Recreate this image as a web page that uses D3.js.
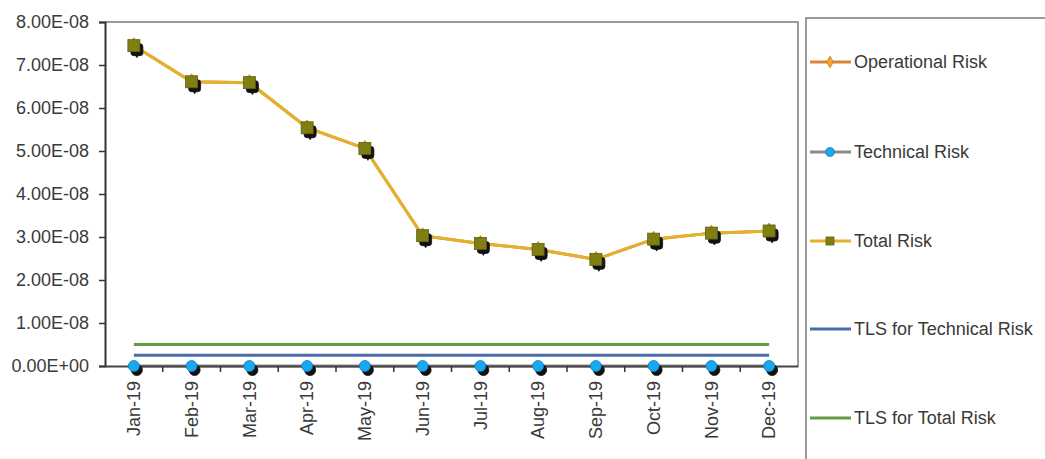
<!DOCTYPE html>
<html>
<head>
<meta charset="utf-8">
<script src="https://cdn.jsdelivr.net/npm/d3@7"></script>
<style>
	body { margin: 0; background: #fff; }
	text { font-family: "Liberation Sans", Arial, sans-serif; fill: #3a3a3a; }
</style>
</head>
<body>
<svg id="chart" width="1045" height="459"></svg>
<script>
// data
const months = ["Jan-19", "Feb-19", "Mar-19", "Apr-19", "May-19", "Jun-19",
	"Jul-19", "Aug-19", "Sep-19", "Oct-19", "Nov-19", "Dec-19"];
const operationalRisk = [7.45e-8, 6.61e-8, 6.59e-8, 5.54e-8, 5.06e-8, 3.03e-8,
	2.85e-8, 2.71e-8, 2.48e-8, 2.95e-8, 3.09e-8, 3.14e-8];
const technicalRisk = [0, 0, 0, 0, 0, 0, 0, 0, 0, 0, 0, 0];
const totalRisk = [7.45e-8, 6.61e-8, 6.59e-8, 5.54e-8, 5.06e-8, 3.03e-8,
	2.85e-8, 2.71e-8, 2.48e-8, 2.95e-8, 3.09e-8, 3.14e-8];
const tlsTechnical = [2.5e-9, 2.5e-9, 2.5e-9, 2.5e-9, 2.5e-9, 2.5e-9,
	2.5e-9, 2.5e-9, 2.5e-9, 2.5e-9, 2.5e-9, 2.5e-9];
const tlsTotal = [5e-9, 5e-9, 5e-9, 5e-9, 5e-9, 5e-9,
	5e-9, 5e-9, 5e-9, 5e-9, 5e-9, 5e-9];
const yTicks = [0, 1e-8, 2e-8, 3e-8, 4e-8, 5e-8, 6e-8, 7e-8, 8e-8];
const legendNames = ["Operational Risk", "Technical Risk", "Total Risk",
	"TLS for Technical Risk", "TLS for Total Risk"];

const series = [
	{ name: legendNames[0], values: operationalRisk, line: "#d9833c", marker: "diamond", fill: "#f5a52a" },
	{ name: legendNames[1], values: technicalRisk, line: "#8a8a8a", marker: "circle", fill: "#19a8f2" },
	{ name: legendNames[2], values: totalRisk, line: "#e4b22a", marker: "square", fill: "#7f7f12" },
	{ name: legendNames[3], values: tlsTechnical, line: "#4a6ea9", marker: null },
	{ name: legendNames[4], values: tlsTotal, line: "#5f9c45", marker: null }
];

const svg = d3.select("#chart");
const plot = { left: 105, right: 798, top: 22, bottom: 366 };

const x = d3.scaleBand().domain(months).range([plot.left, plot.right]);
const y = d3.scaleLinear().domain([0, 8e-8]).range([plot.bottom, plot.top]);

// excel style scientific labels, e.g. 8.00E-08
function sci(v) {
	let [m, e] = d3.format(".2e")(v).split("e");
	let sign = e[0] === "-" ? "-" : "+";
	let digits = e.replace(/[+-]/, "").padStart(2, "0");
	return m + "E" + sign + digits;
}

// plot frame (top and right)
svg.append("path")
	.attr("d", `M${plot.left},${plot.top}H${plot.right}V${plot.bottom}`)
	.attr("fill", "none")
	.attr("stroke", "#7a7a7a")
	.attr("stroke-width", 1.5);

// y axis
const yAxis = svg.append("g")
	.attr("transform", `translate(${plot.left},0)`)
	.call(d3.axisLeft(y).tickValues(yTicks).tickFormat(sci).tickSize(6).tickPadding(10));
yAxis.select(".domain").attr("stroke", "#333").attr("stroke-width", 2);
yAxis.selectAll(".tick line").attr("stroke", "#333").attr("stroke-width", 1.5);
yAxis.selectAll("text").style("font-size", "18px").attr("fill", "#3a3a3a");

const cx = d => x(d) + x.bandwidth() / 2;
const line = d3.line().x((d, i) => cx(months[i])).y(d => y(d));

// draw TLS lines first, then series lines
const drawOrder = [4, 3, 1, 0, 2];
drawOrder.forEach(k => {
	let s = series[k];
	svg.append("path")
		.datum(s.values)
		.attr("d", line)
		.attr("fill", "none")
		.attr("stroke", s.line)
		.attr("stroke-width", 3);
});

// x axis with ticks between categories
const xAxis = svg.append("g")
	.attr("transform", `translate(0,${plot.bottom})`)
	.call(d3.axisBottom(x).tickSize(0).tickPadding(0));
xAxis.select(".domain").attr("stroke", "#444").attr("stroke-width", 2);
xAxis.selectAll(".tick text")
	.style("font-size", "18px")
	.attr("fill", "#3a3a3a")
	.attr("text-anchor", "end")
	.attr("transform", "translate(0,15) rotate(-90)")
	.attr("dx", 0)
	.attr("dy", "0.35em");
xAxis.selectAll(".sep")
	.data(months.slice(1))
	.enter().append("line")
	.attr("class", "sep")
	.attr("x1", d => x(d)).attr("x2", d => x(d))
	.attr("y1", 0).attr("y2", 6)
	.attr("stroke", "#333").attr("stroke-width", 1.5);

function drawMarker(g, type, size, fill, px, py, shadow) {
	let col = shadow ? "#111" : fill;
	let stroke = shadow ? "#111" : d3.color(fill).darker(0.8);
	if (type === "square") {
		g.append("rect")
			.attr("x", px - size / 2).attr("y", py - size / 2)
			.attr("width", size).attr("height", size)
			.attr("rx", shadow ? 3 : 0)
			.attr("fill", col).attr("stroke", stroke).attr("stroke-width", 0.8);
	} else if (type === "circle") {
		g.append("circle")
			.attr("cx", px).attr("cy", py).attr("r", size / 2)
			.attr("fill", col).attr("stroke", stroke).attr("stroke-width", 0.8);
	} else if (type === "diamond") {
		g.append("path")
			.attr("d", d3.symbol().type(d3.symbolDiamond).size(size * size * 0.6)())
			.attr("transform", `translate(${px},${py})`)
			.attr("fill", col).attr("stroke", stroke).attr("stroke-width", 0.8);
	}
}

[1, 0, 2].forEach(k => {
	let s = series[k];
	let g = svg.append("g");
	s.values.forEach((v, i) => {
		let px = cx(months[i]), py = y(v);
		let size = s.marker === "square" ? 12 : 11;
		drawMarker(g, s.marker, size, s.fill, px + 3, py + 4, true);
		drawMarker(g, s.marker, size, s.fill, px, py, false);
	});
});

// legend box
svg.append("rect")
	.attr("x", 806).attr("y", 18)
	.attr("width", 260).attr("height", 480)
	.attr("fill", "none")
	.attr("stroke", "#7a7a7a")
	.attr("stroke-width", 1.5);

const legendY = [62, 152, 241, 329, 418];
const legend = svg.append("g");
series.forEach((s, i) => {
	let ly = legendY[i];
	legend.append("line")
		.attr("x1", 810).attr("x2", 851)
		.attr("y1", ly).attr("y2", ly)
		.attr("stroke", s.line).attr("stroke-width", 3);
	if (s.marker) {
		let size = s.marker === "circle" ? 9 : 8;
		drawMarker(legend, s.marker, size, s.fill, 830, ly, false);
	}
	legend.append("text")
		.attr("x", 854).attr("y", ly)
		.attr("dy", "0.35em")
		.style("font-size", "18px")
		.text(s.name);
});
</script>
</body>
</html>
